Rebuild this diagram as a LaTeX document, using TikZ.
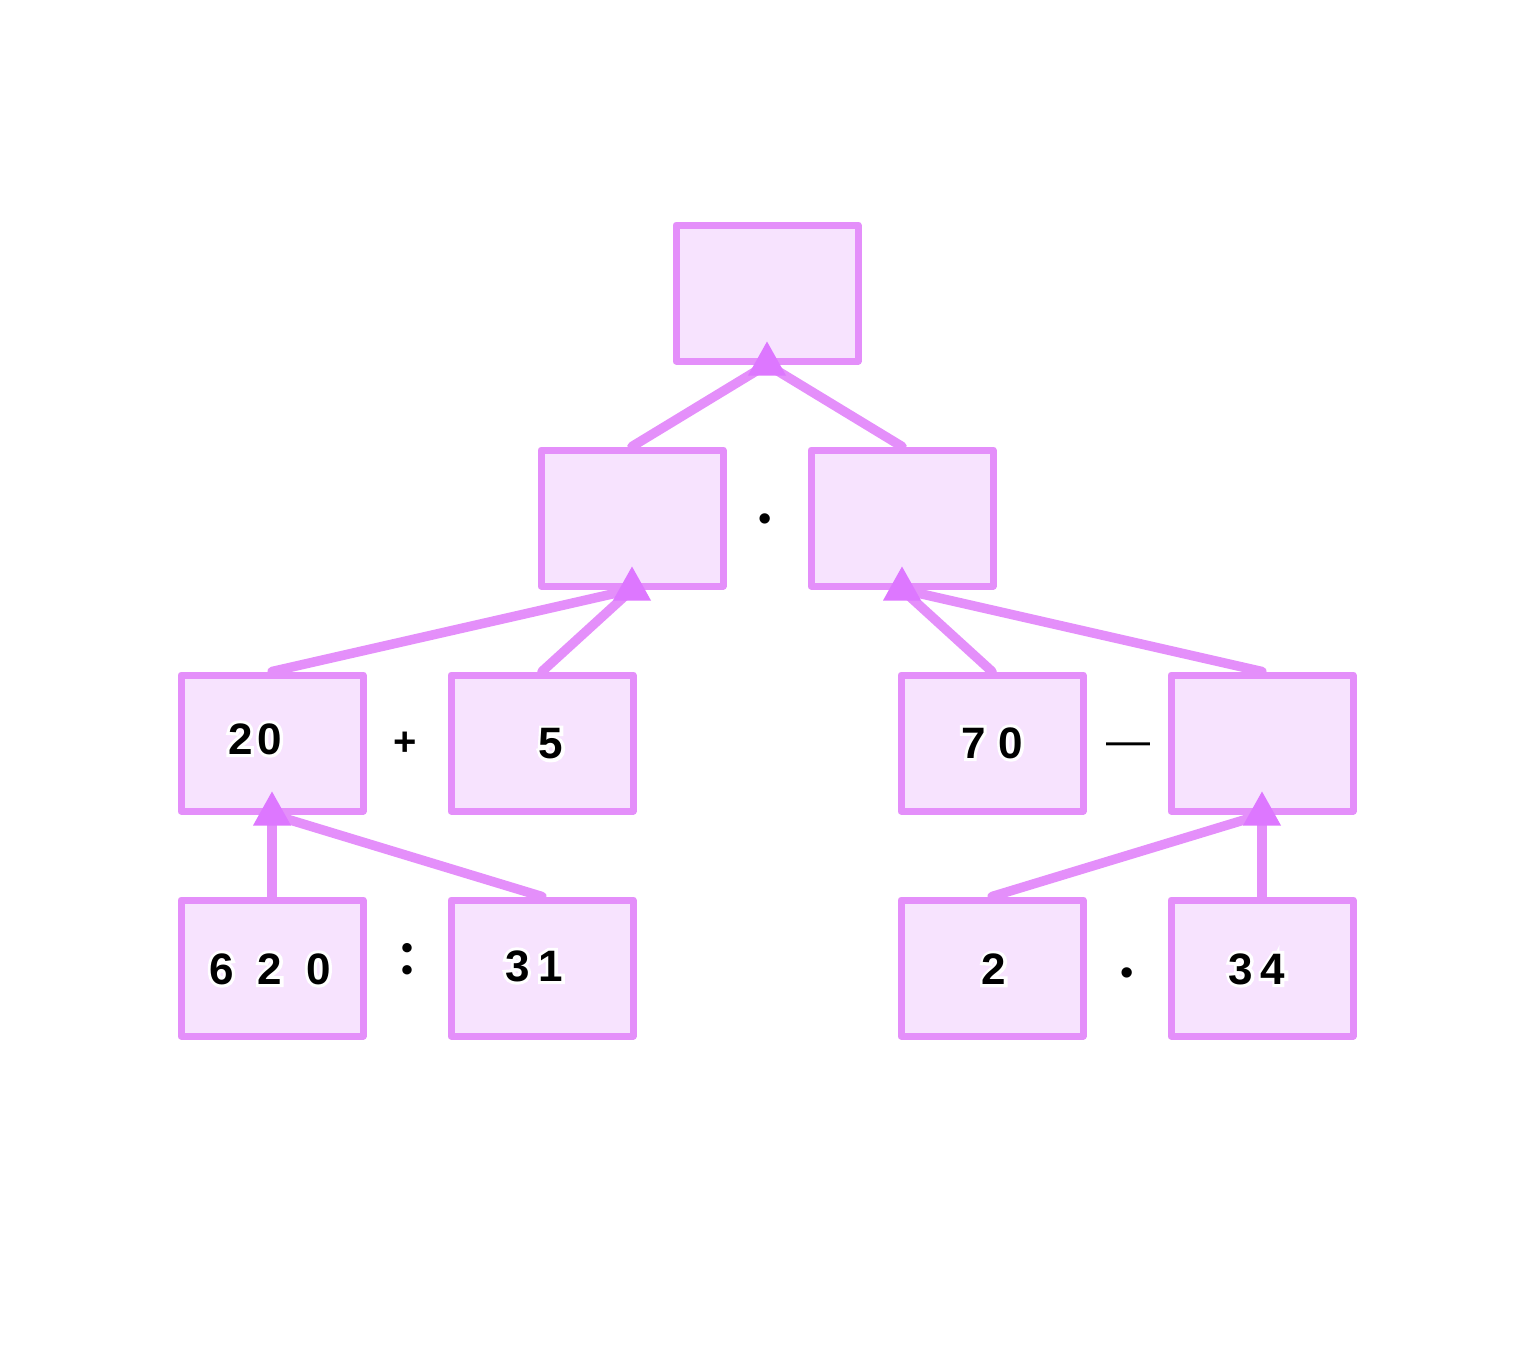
\documentclass[tikz,border=0pt]{standalone}
\usepackage{fontspec}
\setmainfont{Liberation Sans}
\newfontfamily\halofont{Liberation Sans Bold}[FakeBold=14]
\newfontfamily\latofont{Lato}
\newcommand\haloed[1]{\leavevmode\rlap{\halofont\color{white}#1}{\bfseries #1}}
\definecolor{boxfill}{HTML}{F7E3FE}
\definecolor{boxline}{HTML}{E48FFA}
\definecolor{tipcol}{HTML}{DD77FF}
\begin{document}
\begin{tikzpicture}[x=1pt,y=-1pt,
  box/.style={draw=boxline, fill=boxfill, line width=7pt, minimum width=182pt, minimum height=136pt, inner sep=0pt, line join=round},
  link/.style={draw=boxline, line width=9.5pt, line cap=round},
  tiphead/.style={fill=tipcol},
  num/.style={font=\fontsize{44}{44}\selectfont, inner sep=0pt},
  op/.style={font=\fontsize{44}{44}\selectfont, inner sep=0pt}]
\useasboundingbox (0,0) rectangle (1536,1359);
% boxes
\node[box] (top) at (767,293) {};
\node[box] (ml) at (632,518) {};
\node[box] (mr) at (902,518) {};
\node[box] (b20) at (272,743) {};
\node[box] (b5) at (542,743) {};
\node[box] (b70) at (992,743) {};
\node[box] (bx) at (1262,743) {};
\node[box] (b620) at (272,968) {};
\node[box] (b31) at (542,968) {};
\node[box] (b2) at (992,968) {};
\node[box] (b34) at (1262,968) {};
% links
\draw[link] (ml.north) -- (top.south);
\draw[link] (mr.north) -- (top.south);
\draw[link] (b20.north) -- (ml.south);
\draw[link] (b5.north) -- (ml.south);
\draw[link] (b70.north) -- (mr.south);
\draw[link] (bx.north) -- (mr.south);
\draw[link] (b620.north) -- (b20.south);
\draw[link] (b31.north) -- (b20.south);
\draw[link] (b2.north) -- (bx.south);
\draw[link] (b34.north) -- (bx.south);
% arrow heads
\foreach \p in {top,ml,mr,b20,bx}
  \fill[tiphead, shift={(\p.south)}] (0,-23) -- (-19,11) -- (19,11) -- cycle;
% numbers
\node[num] (t20) at (255,739) {\haloed{2\hspace{5pt}0}};
\node[num] (t5) at (551,744) {\haloed{5}};
\node[num] (t620) at (270,969) {\haloed{6\hspace{24pt}2\hspace{24pt}0}};
\node[num] (t31) at (534,966) {\haloed{3\hspace{9pt}1}};
\node[num] (t70) at (992,743) {\haloed{7\hspace{13pt}0}};
\node[num] (t2) at (994,969) {\haloed{2}};
\node[num] (t34) at (1257,969) {\haloed{3\hspace{8pt}4}};
% operators
\node[op, font=\fontsize{40}{40}\selectfont] (oplus) at (405,744) {\haloed{+}};
\node[op, font=\fontsize{38}{38}\selectfont] (odot1) at (765,523) {•};
\node[op, font=\fontsize{62}{62}\latofont\bfseries] (ocolon) at (407,959) {:};
\node[op] (odash) at (1128,749) {—};
\node[op, font=\fontsize{38}{38}\selectfont] (odot2) at (1127,977) {•};
\end{tikzpicture}
\end{document}
